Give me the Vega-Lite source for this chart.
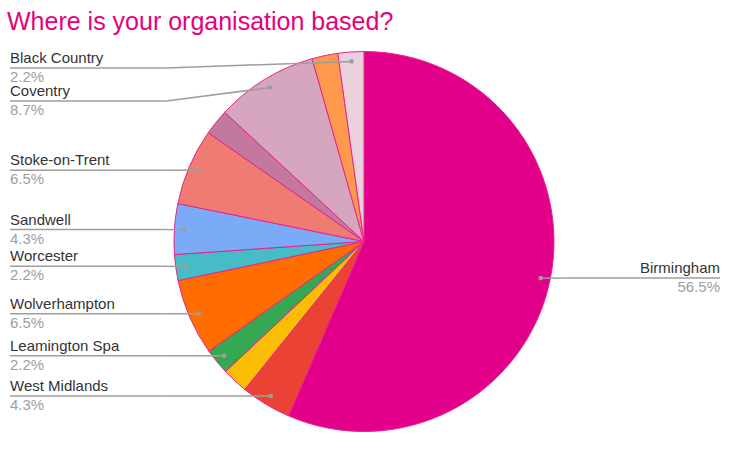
{
  "$schema": "https://vega.github.io/schema/vega-lite/v6.json",
  "width": 728,
  "height": 403,
  "autosize": {"type": "none"},
  "padding": {"left": 0, "right": 22, "top": 40, "bottom": 14},
  "background": "white",
  "config": {"view": {"stroke": null}, "font": "Liberation Sans"},
  "title": {
    "text": "Where is your organisation based?",
    "anchor": "start",
    "frame": "group",
    "fontSize": 25,
    "fontWeight": "normal",
    "color": "#e6007e",
    "font": "Liberation Sans",
    "baseline": "alphabetic",
    "offset": -15,
    "dx": 7
  },
  "data": {
    "values": [
      {"region": "Birmingham", "percent": 56.5, "order": 1, "labelled": true},
      {"region": "West Midlands", "percent": 4.3, "order": 2, "labelled": true},
      {"region": "Unlabelled slice 1", "percent": 2.2, "order": 3, "labelled": false},
      {"region": "Leamington Spa", "percent": 2.2, "order": 4, "labelled": true},
      {"region": "Wolverhampton", "percent": 6.5, "order": 5, "labelled": true},
      {"region": "Worcester", "percent": 2.2, "order": 6, "labelled": true},
      {"region": "Sandwell", "percent": 4.3, "order": 7, "labelled": true},
      {"region": "Stoke-on-Trent", "percent": 6.5, "order": 8, "labelled": true},
      {"region": "Unlabelled slice 2", "percent": 2.2, "order": 9, "labelled": false},
      {"region": "Coventry", "percent": 8.7, "order": 10, "labelled": true},
      {"region": "Unlabelled slice 3", "percent": 2.2, "order": 11, "labelled": false},
      {"region": "Black Country", "percent": 2.2, "order": 12, "labelled": true}
    ]
  },
  "layer": [
    {
      "mark": {"type": "arc", "outerRadius": 190, "stroke": "#e8238f", "strokeWidth": 1},
      "encoding": {
        "theta": {"field": "percent", "type": "quantitative", "stack": true},
        "order": {"field": "order", "type": "quantitative"},
        "color": {
          "field": "region",
          "type": "nominal",
          "legend": null,
          "scale": {
            "domain": ["Birmingham", "West Midlands", "Unlabelled slice 1", "Leamington Spa", "Wolverhampton", "Worcester", "Sandwell", "Stoke-on-Trent", "Unlabelled slice 2", "Coventry", "Unlabelled slice 3", "Black Country"],
            "range": ["#e2008a", "#ea4335", "#fbbc04", "#34a853", "#ff6d01", "#46bdc6", "#7baaf7", "#f07b72", "#c2789f", "#d5a6bd", "#ff994d", "#ead1dc"]
          }
        }
      }
    },
    {
      "transform": [
        {"joinaggregate": [{"op": "sum", "field": "percent", "as": "total"}]},
        {"window": [{"op": "sum", "field": "percent", "as": "cum"}], "sort": [{"field": "order"}], "frame": [null, 0]},
        {"calculate": "2*PI*(datum.cum - datum.percent/2)/datum.total", "as": "mid"},
        {"calculate": "0.95*sin(datum.mid)", "as": "dotX"},
        {"calculate": "0.95*cos(datum.mid)", "as": "dotY"},
        {"filter": "datum.labelled"},
        {"calculate": "datum.dotX < 0 ? 'left' : 'right'", "as": "side"},
        {"calculate": "-datum.dotY", "as": "down"},
        {"window": [{"op": "row_number", "as": "rank"}], "sort": [{"field": "down"}], "groupby": ["side"]},
        {"calculate": "datum.down - (datum.rank-1)*0.1737", "as": "adj"},
        {"window": [{"op": "max", "field": "adj", "as": "cmax"}], "sort": [{"field": "down"}], "groupby": ["side"], "frame": [null, 0]},
        {"calculate": "-((datum.rank-1)*0.1737 + max(-0.913, datum.cmax))", "as": "labelY"},
        {"calculate": "datum.side === 'left' ? -1.8632 : 1.8737", "as": "edgeX"},
        {"calculate": "datum.side === 'left' ? -1.04 : 1.04", "as": "bendX"},
        {"calculate": "datum.percent/datum.total", "as": "share"}
      ],
      "layer": [
        {
          "mark": {"type": "rule", "color": "#9e9e9e", "strokeWidth": 1.5},
          "encoding": {
            "x": {"field": "edgeX", "type": "quantitative", "scale": {"domain": [-1.9158, 1.9158], "nice": false, "zero": false}, "axis": null},
            "x2": {"field": "bendX"},
            "y": {"field": "labelY", "type": "quantitative", "scale": {"domain": [-1.0605, 1.0605], "nice": false, "zero": false}, "axis": null},
            "y2": {"field": "labelY"}
          }
        },
        {
          "mark": {"type": "rule", "color": "#9e9e9e", "strokeWidth": 1.5},
          "encoding": {
            "x": {"field": "bendX", "type": "quantitative"},
            "x2": {"field": "dotX"},
            "y": {"field": "labelY", "type": "quantitative"},
            "y2": {"field": "dotY"}
          }
        },
        {
          "mark": {"type": "circle", "size": 22, "color": "#9e9e9e", "opacity": 1},
          "encoding": {
            "x": {"field": "dotX", "type": "quantitative"},
            "y": {"field": "dotY", "type": "quantitative"}
          }
        },
        {
          "transform": [{"filter": "datum.side === 'left'"}],
          "mark": {"type": "text", "align": "left", "baseline": "alphabetic", "dy": -5, "fontSize": 15, "color": "#333333"},
          "encoding": {
            "x": {"field": "edgeX", "type": "quantitative"},
            "y": {"field": "labelY", "type": "quantitative"},
            "text": {"field": "region"}
          }
        },
        {
          "transform": [{"filter": "datum.side === 'left'"}],
          "mark": {"type": "text", "align": "left", "baseline": "alphabetic", "dy": 14, "fontSize": 15, "color": "#9e9e9e"},
          "encoding": {
            "x": {"field": "edgeX", "type": "quantitative"},
            "y": {"field": "labelY", "type": "quantitative"},
            "text": {"field": "share", "type": "quantitative", "format": ".1%"}
          }
        },
        {
          "transform": [{"filter": "datum.side === 'right'"}],
          "mark": {"type": "text", "align": "right", "baseline": "alphabetic", "dy": -5, "fontSize": 15, "color": "#333333"},
          "encoding": {
            "x": {"field": "edgeX", "type": "quantitative"},
            "y": {"field": "labelY", "type": "quantitative"},
            "text": {"field": "region"}
          }
        },
        {
          "transform": [{"filter": "datum.side === 'right'"}],
          "mark": {"type": "text", "align": "right", "baseline": "alphabetic", "dy": 14, "fontSize": 15, "color": "#9e9e9e"},
          "encoding": {
            "x": {"field": "edgeX", "type": "quantitative"},
            "y": {"field": "labelY", "type": "quantitative"},
            "text": {"field": "share", "type": "quantitative", "format": ".1%"}
          }
        }
      ]
    }
  ]
}
